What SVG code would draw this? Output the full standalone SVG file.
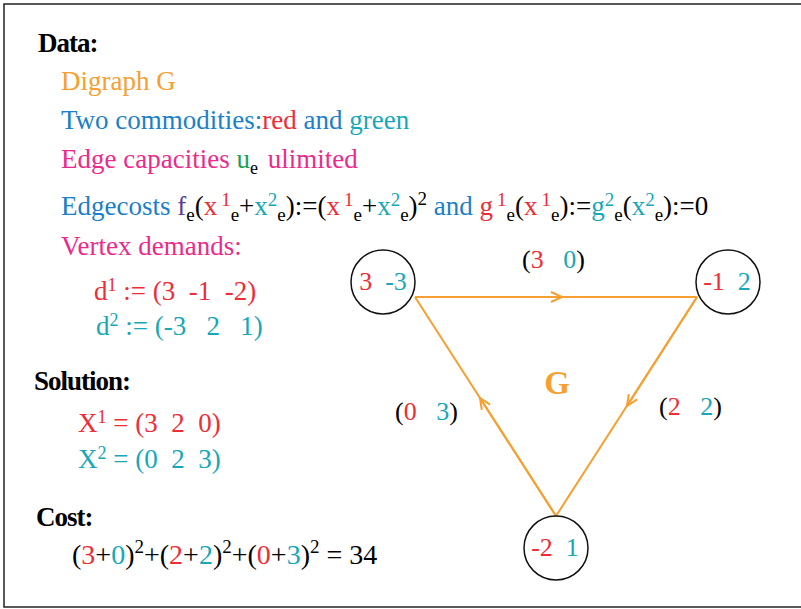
<svg xmlns="http://www.w3.org/2000/svg" width="801" height="609" viewBox="0 0 801 609" font-family="'Liberation Serif', 'Times New Roman', Times, serif">
<style>
text{font-family:'Liberation Serif','Times New Roman',Times,serif;font-size:27px;white-space:pre}
.b{font-weight:bold;fill:#000;font-size:27px;letter-spacing:-1px}
.o{fill:#f5a030}.bl{fill:#1a80c8}.r{fill:#ee2d36}.t{fill:#16a8b8}.p{fill:#ec2a8c}.g{fill:#1aa050}.k{fill:#000}.v{fill:#5a3c9c}
.s{font-size:18px}
.ss{font-size:19px}
.lab{font-size:26px}
.node circle{fill:#fff;stroke:#111;stroke-width:1.5}
.edge{stroke:#f5a030;stroke-width:2;fill:none}
</style>
<defs>
<marker id="ah" markerWidth="14" markerHeight="12" refX="12" refY="6" orient="auto" markerUnits="userSpaceOnUse">
<path d="M1,1 L12,6 L1,11" fill="none" stroke="#f5a030" stroke-width="2"/>
</marker>
</defs>
<rect x="4" y="4" width="800" height="603" fill="#fff" stroke="#222" stroke-width="1.5"/>
<text x="38" y="52" class="b">Data:</text>
<text x="61" y="90" class="o">Digraph G</text>
<text x="61" y="129" class="bl">Two commodities:<tspan class="r">red</tspan> and <tspan class="t">green</tspan></text>
<text x="61" y="168" class="p">Edge capacities <tspan class="g">u</tspan><tspan class="k s" dy="6">e</tspan><tspan dy="-6" dx="3"> ulimited</tspan></text>
<text x="61" y="215" class="bl">Edgecosts <tspan class="v">f</tspan><tspan class="k ss" dy="6">e</tspan><tspan class="k" dy="-6">(</tspan><tspan class="r">x</tspan><tspan class="r ss" dy="-9" dx="4">1</tspan><tspan class="k ss" dy="15">e</tspan><tspan class="k" dy="-6">+</tspan><tspan class="t">x</tspan><tspan class="t ss" dy="-9">2</tspan><tspan class="k ss" dy="15">e</tspan><tspan class="k" dy="-6">):=(</tspan><tspan class="r">x</tspan><tspan class="r ss" dy="-9" dx="4">1</tspan><tspan class="k ss" dy="15">e</tspan><tspan class="k" dy="-6">+</tspan><tspan class="t">x</tspan><tspan class="t ss" dy="-9">2</tspan><tspan class="k ss" dy="15">e</tspan><tspan class="k" dy="-6">)</tspan><tspan class="k ss" dy="-10">2</tspan><tspan dy="10"> and </tspan><tspan class="r">g</tspan><tspan class="r ss" dy="-9" dx="4">1</tspan><tspan class="k ss" dy="15">e</tspan><tspan class="k" dy="-6">(</tspan><tspan class="r">x</tspan><tspan class="r ss" dy="-9" dx="4">1</tspan><tspan class="k ss" dy="15">e</tspan><tspan class="k" dy="-6">):=</tspan><tspan class="t">g</tspan><tspan class="t ss" dy="-9">2</tspan><tspan class="k ss" dy="15">e</tspan><tspan class="k" dy="-6">(</tspan><tspan class="t">x</tspan><tspan class="t ss" dy="-9">2</tspan><tspan class="k ss" dy="15">e</tspan><tspan class="k" dy="-6">):=0</tspan></text>
<text x="61" y="255" class="p">Vertex demands:</text>
<text x="94" y="300" class="r">d<tspan class="s" dy="-9">1</tspan><tspan dy="9"> := (3  -1  -2)</tspan></text>
<text x="96" y="335" class="t">d<tspan class="s" dy="-9">2</tspan><tspan dy="9"> := (-3   2   1)</tspan></text>
<text x="34" y="390" class="b">Solution:</text>
<text x="78" y="432" class="r">X<tspan class="s" dy="-9">1</tspan><tspan dy="9"> = (3  2  0)</tspan></text>
<text x="78" y="468" class="t">X<tspan class="s" dy="-9">2</tspan><tspan dy="9"> = (0  2  3)</tspan></text>
<text x="36" y="526" class="b">Cost:</text>
<text x="72" y="564" class="k" style="font-size:28px">(<tspan class="r">3</tspan>+<tspan class="t">0</tspan>)<tspan class="ss" dy="-11">2</tspan><tspan dy="11">+(</tspan><tspan class="r">2</tspan>+<tspan class="t">2</tspan>)<tspan class="ss" dy="-11">2</tspan><tspan dy="11">+(</tspan><tspan class="r">0</tspan>+<tspan class="t">3</tspan>)<tspan class="ss" dy="-11">2</tspan><tspan dy="11"> = 34</tspan></text>
<g id="connectors">
<g id="e12"><path class="edge" d="M415,297 L697,297"/><path class="edge" d="M415,297 L562,297" marker-end="url(#ah)"/></g>
<g id="e23"><path class="edge" d="M697,297 L556,516"/><path class="edge" d="M697,297 L627,406" marker-end="url(#ah)"/></g>
<g id="e31"><path class="edge" d="M556,516 L415,297"/><path class="edge" d="M556,516 L480,398" marker-end="url(#ah)"/></g>
<text x="522" y="268" class="k lab">(<tspan class="r">3</tspan>   <tspan class="t">0</tspan>)</text>
<text x="395" y="420" class="k lab">(<tspan class="r">0</tspan>   <tspan class="t">3</tspan>)</text>
<text x="659" y="415" class="k lab">(<tspan class="r">2</tspan>   <tspan class="t">2</tspan>)</text>
</g>
<text x="557" y="394" class="o" style="font-weight:bold;font-size:33px" text-anchor="middle">G</text>
<g id="n1" class="node"><circle cx="383" cy="282" r="32"/><text x="383" y="290" text-anchor="middle" class="lab"><tspan class="r">3</tspan>  <tspan class="t">-3</tspan></text></g>
<g id="n2" class="node"><circle cx="728" cy="282" r="32"/><text x="727" y="290" text-anchor="middle" class="lab"><tspan class="r">-1</tspan>  <tspan class="t">2</tspan></text></g>
<g id="n3" class="node"><circle cx="556" cy="548" r="32"/><text x="555" y="556" text-anchor="middle" class="lab"><tspan class="r">-2</tspan>  <tspan class="t">1</tspan></text></g>
</svg>
